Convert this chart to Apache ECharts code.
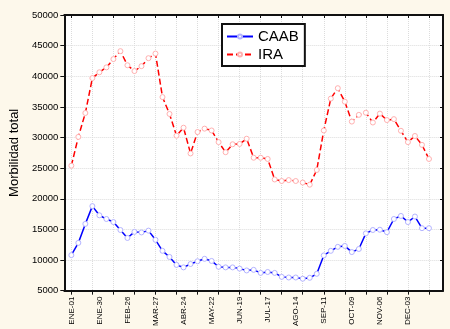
<!DOCTYPE html>
<html>
<head>
<meta charset="utf-8">
<script src="https://cdn.jsdelivr.net/npm/echarts@6/dist/echarts.min.js"></script>
<style>
    html, body { margin: 0; padding: 0; background: #fdf8eb; }
    #chart { width: 450px; height: 329px; }
</style>
</head>
<body>
<div id="chart"></div>
<script>
    // weekly points, one label every 4 weeks
    var tickLabels = ['ENE-01', 'ENE-30', 'FEB-26', 'MAR-27', 'ABR-24', 'MAY-22', 'JUN-19',
        'JUL-17', 'AGO-14', 'SEP-11', 'OCT-09', 'NOV-06', 'DEC-03'];

    var caab = [10800, 12800, 15900, 18800, 17300, 16700, 16200, 14900, 13600, 14600,
        14500, 14800, 13300, 11500, 10500, 9200, 8800, 9350, 9800, 10200,
        9850, 8900, 8800, 8800, 8600, 8300, 8400, 7900, 8050, 7900,
        7250, 7150, 7150, 6950, 7100, 7750, 10750, 11500, 12150, 12300,
        11300, 11800, 14350, 14900, 14950, 14550, 16700, 17200, 16200, 17100,
        15200, 15200];

    var ira = [25400, 30100, 34000, 39700, 40650, 41450, 42800, 44100, 41800, 40850,
        41650, 42950, 43700, 36600, 33850, 30300, 31600, 27400, 30900, 31450,
        31150, 29250, 27600, 28900, 28950, 29800, 26700, 26700, 26500, 23150,
        22900, 23050, 22900, 22650, 22300, 24700, 31150, 36350, 38050, 35850,
        32600, 33700, 34050, 32450, 33900, 32850, 33000, 31100, 29250, 30250,
        28800, 26500];

    // one empty slot before and two after, so the points sit inside the frame
    var cats = [''];
    for (var i = 0; i < caab.length; i++) {
        cats.push(i % 4 === 0 ? tickLabels[i / 4] : 'w' + i);
    }
    cats.push(' ', '  ');
    function pad(arr) {
        return [null].concat(arr, [null, null]);
    }
    function isTick(index) {
        return index >= 1 && index <= caab.length && (index - 1) % 3 === 0;
    }
    function isLabel(index) {
        return index >= 1 && (index - 1) % 4 === 0 && (index - 1) / 4 < tickLabels.length;
    }

    var font = "Arial, 'Liberation Sans', sans-serif";
    var frame = { show: true, lineStyle: { color: '#111', width: 2 } };
    var grid = { show: true, type: 'dotted', color: '#dcdcdc', width: 1 };

    var option = {
        animation: false,
        backgroundColor: '#fdf8eb',
        grid: { left: 58, right: 7, top: 15, bottom: 38, show: true, backgroundColor: '#fff', borderWidth: 0 },
        legend: {
            left: 222,
            top: 24,
            orient: 'vertical',
            backgroundColor: '#fff',
            borderColor: '#111',
            borderWidth: 2,
            borderRadius: 0,
            padding: [5, 6, 4, 4],
            itemWidth: 26,
            itemHeight: 5,
            itemGap: 3,
            textStyle: { fontFamily: font, fontSize: 15, color: '#000' },
            data: ['CAAB', 'IRA']
        },
        xAxis: [{
            type: 'category',
            data: cats,
            boundaryGap: false,
            axisLine: frame,
            axisTick: { show: true, length: 4, interval: isTick, lineStyle: { color: '#111' } },
            axisLabel: {
                interval: isLabel,
                rotate: 90,
                margin: 6,
                fontFamily: font,
                fontSize: 8,
                color: '#000'
            },
            splitLine: { show: true, interval: isTick, lineStyle: grid }
        }, {
            type: 'category',
            data: cats,
            position: 'top',
            boundaryGap: false,
            axisLine: frame,
            axisTick: { show: true, inside: true, length: 3, interval: isTick, lineStyle: { color: '#111' } },
            axisLabel: { show: false },
            splitLine: { show: false }
        }],
        yAxis: [{
            type: 'value',
            min: 5000,
            max: 50000,
            interval: 5000,
            name: 'Morbilidad total',
            nameLocation: 'middle',
            nameGap: 40,
            nameTextStyle: { fontFamily: font, fontSize: 13, color: '#000' },
            axisLine: frame,
            axisTick: { show: true, length: 4, lineStyle: { color: '#111' } },
            axisLabel: {
                margin: 6,
                fontFamily: font,
                fontSize: 9.5,
                color: '#000',
                formatter: function (v) { return String(v); }
            },
            splitLine: { show: true, lineStyle: grid }
        }, {
            type: 'value',
            min: 5000,
            max: 50000,
            interval: 5000,
            position: 'right',
            axisLine: frame,
            axisTick: { show: true, inside: true, length: 3, lineStyle: { color: '#111' } },
            axisLabel: { show: false },
            splitLine: { show: false }
        }],
        series: [{
            name: 'CAAB',
            type: 'line',
            data: pad(caab),
            symbol: 'circle',
            symbolSize: 5,
            showSymbol: true,
            showAllSymbol: true,
            lineStyle: { color: '#0000ff', width: 1.5 },
            itemStyle: { color: '#fff', borderColor: '#b4b4ff', borderWidth: 1 }
        }, {
            name: 'IRA',
            type: 'line',
            data: pad(ira),
            symbol: 'circle',
            symbolSize: 5,
            showSymbol: true,
            showAllSymbol: true,
            lineStyle: { color: '#ff0000', width: 1.5, type: [6, 3] },
            itemStyle: { color: '#fff', borderColor: '#ffb0b0', borderWidth: 1 }
        }]
    };

    echarts.init(document.getElementById('chart')).setOption(option);
</script>
</body>
</html>
